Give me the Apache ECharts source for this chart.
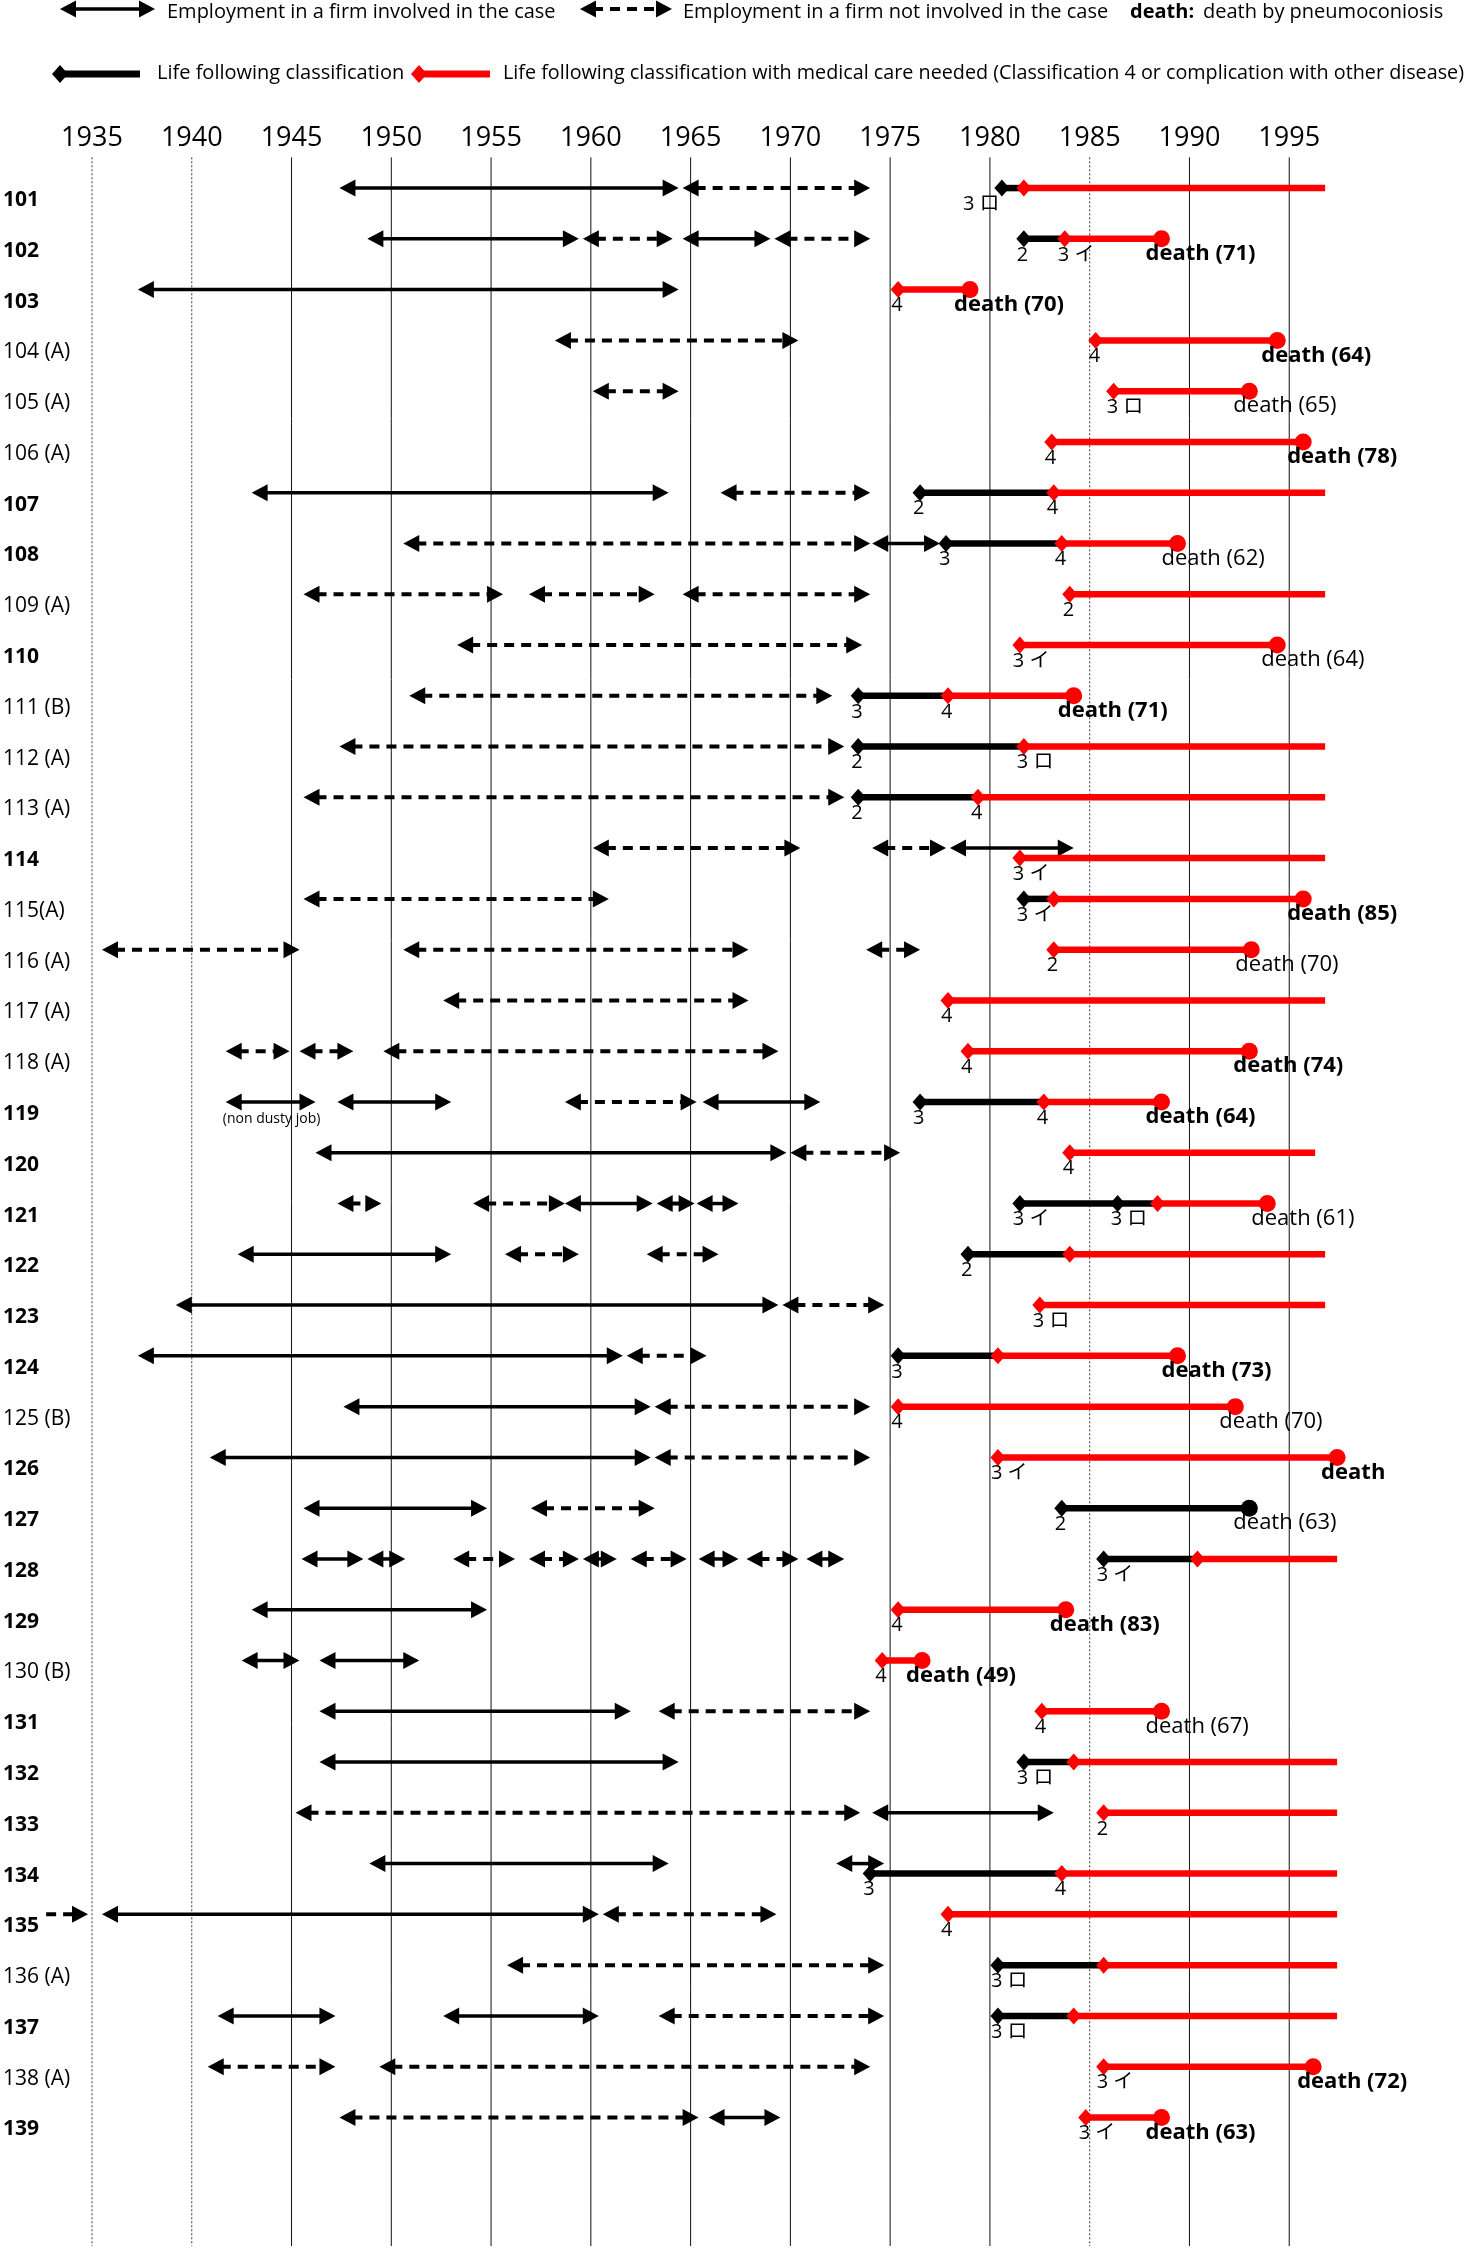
<!DOCTYPE html>
<html><head><meta charset="utf-8">
<script src="https://cdn.jsdelivr.net/npm/echarts@6/dist/echarts.min.js"></script>
<style>html,body{margin:0;padding:0;background:#fff}#c{width:1467px;height:2258px}</style>
</head><body><div id="c"></div><script>
// ---------------- DATA ----------------
const yearTicks = [1935,1940,1945,1950,1955,1960,1965,1970,1975,1980,1985,1990,1995];
const rowIds = [101,102,103,104,105,106,107,108,109,110,111,112,113,114,115,116,117,118,119,120,121,122,123,124,125,126,127,128,129,130,131,132,133,134,135,136,137,138,139];
const rowLabels = ['101','102','103','104 (A)','105 (A)','106 (A)','107','108','109 (A)','110','111 (B)','112 (A)','113 (A)','114','115(A)','116 (A)','117 (A)','118 (A)','119','120','121','122','123','124','125 (B)','126','127','128','129','130 (B)','131','132','133','134','135','136 (A)','137','138 (A)','139'];

// employment in a firm involved in the case: [case, from, to]
const involved = [
 [101,1947.4,1964.4],
 [102,1948.8,1959.4],[102,1964.6,1969.0],
 [103,1937.3,1964.4],
 [107,1943.0,1963.9],
 [108,1974.1,1977.5],
 [114,1978.0,1984.2],
 [119,1941.7,1946.2],[119,1947.3,1953.0],[119,1965.6,1971.5],
 [120,1946.2,1969.8],
 [121,1958.7,1963.1],[121,1965.3,1967.4],
 [122,1942.3,1953.0],
 [123,1939.2,1969.4],
 [124,1937.3,1961.6],
 [125,1947.6,1963.0],
 [126,1940.9,1963.0],
 [127,1945.6,1954.8],
 [128,1945.5,1948.6],[128,1948.8,1950.7],[128,1959.6,1961.3],[128,1965.4,1967.4],[128,1970.8,1972.7],
 [129,1943.0,1954.8],
 [130,1942.5,1945.4],[130,1946.4,1951.4],
 [131,1946.4,1962.0],
 [132,1946.4,1964.4],
 [133,1974.1,1983.2],
 [134,1948.9,1963.9],[134,1972.3,1974.7],
 [135,1935.5,1960.4],
 [137,1941.3,1947.2],[137,1952.6,1960.4],
 [139,1965.9,1969.5]
];
// employment in a firm not involved in the case: [case, from, to]
const notInvolved = [
 [101,1964.6,1974.0],
 [102,1959.6,1964.1],[102,1969.2,1974.0],
 [104,1958.2,1970.4],
 [105,1960.1,1964.4],
 [107,1966.5,1974.0],
 [108,1950.6,1974.0],
 [109,1945.6,1955.6],[109,1956.9,1963.2],[109,1964.6,1974.0],
 [110,1953.3,1973.6],
 [111,1950.9,1972.1],
 [112,1947.4,1972.7],
 [113,1945.6,1972.7],
 [114,1960.1,1970.5],[114,1974.1,1977.8],
 [115,1945.6,1960.9],
 [116,1935.5,1945.4],[116,1950.6,1967.9],[116,1973.8,1976.5],
 [117,1952.6,1967.9],
 [118,1941.7,1944.9],[118,1945.4,1948.1],[118,1949.6,1969.4],
 [119,1958.7,1965.3],
 [120,1970.0,1975.5],
 [121,1947.3,1949.5],[121,1954.1,1958.7],[121,1963.3,1965.2],
 [122,1955.7,1959.4],[122,1962.8,1966.4],
 [123,1969.6,1974.7],
 [124,1961.8,1965.8],
 [125,1963.2,1974.0],
 [126,1963.2,1974.0],
 [127,1957.0,1963.2],
 [128,1953.1,1956.2],[128,1956.9,1959.4],[128,1962.0,1964.8],[128,1967.8,1970.4],
 [131,1963.4,1974.0],
 [133,1945.2,1973.5],
 [135,1960.6,1969.3],
 [136,1955.8,1974.7],
 [137,1963.4,1974.7],
 [138,1940.8,1947.2],[138,1949.4,1974.0],
 [139,1947.4,1965.4]
];
// not involved, started before the chart begins (no left arrowhead)
const notInvolvedFromBefore = [[135,1932.7,1934.8]];
const notes = [[119,1944.0,'(non dusty job)']];

// life following classification: [case, from, to]
const blackLife = [
 [101,1980.6,1981.7],[102,1981.7,1983.75],[107,1976.5,1983.2],[108,1977.8,1983.6],
 [111,1973.4,1977.9],[112,1973.4,1981.7],[113,1973.4,1979.4],[115,1981.7,1983.2],
 [119,1976.5,1982.7],[121,1981.5,1988.4],[122,1978.9,1984.0],[124,1975.4,1980.4],
 [127,1983.6,1993.0],[128,1985.7,1990.4],[132,1981.7,1984.2],[134,1974.0,1983.6],
 [136,1980.4,1985.7],[137,1980.4,1984.2]
];
// life with medical care needed: [case, from, to]
const redLife = [
 [101,1981.7,1996.8],[102,1983.75,1988.6],[103,1975.4,1979.0],[104,1985.3,1994.4],
 [105,1986.2,1993.0],[106,1983.1,1995.7],[107,1983.2,1996.8],[108,1983.6,1989.4],
 [109,1984.0,1996.8],[110,1981.5,1994.4],[111,1977.9,1984.2],[112,1981.7,1996.8],
 [113,1979.4,1996.8],[114,1981.5,1996.8],[115,1983.2,1995.7],[116,1983.2,1993.1],
 [117,1977.9,1996.8],[118,1978.9,1993.0],[119,1982.7,1988.6],[120,1984.0,1996.3],
 [121,1988.4,1993.9],[122,1984.0,1996.8],[123,1982.5,1996.8],[124,1980.4,1989.4],
 [125,1975.4,1992.3],[126,1980.4,1997.4],[128,1990.4,1997.4],[129,1975.4,1983.8],
 [130,1974.6,1976.6],[131,1982.6,1988.6],[132,1984.2,1997.4],[133,1985.7,1997.4],
 [134,1983.6,1997.4],[135,1977.9,1997.4],[136,1985.7,1997.4],[137,1984.2,1997.4],
 [138,1985.7,1996.2],[139,1984.8,1988.6]
];
// classification points: [case, year, 'k' black | 'r' red, classification]
const classMarks = [
 [101,1980.6,'k','3 ロ'],[101,1981.7,'r',''],
 [102,1981.7,'k','2'],[102,1983.75,'r','3 イ'],
 [103,1975.4,'r','4'],[104,1985.3,'r','4'],[105,1986.2,'r','3 ロ'],[106,1983.1,'r','4'],
 [107,1976.5,'k','2'],[107,1983.2,'r','4'],
 [108,1977.8,'k','3'],[108,1983.6,'r','4'],
 [109,1984.0,'r','2'],[110,1981.5,'r','3 イ'],
 [111,1973.4,'k','3'],[111,1977.9,'r','4'],
 [112,1973.4,'k','2'],[112,1981.7,'r','3 ロ'],
 [113,1973.4,'k','2'],[113,1979.4,'r','4'],
 [114,1981.5,'r','3 イ'],
 [115,1981.7,'k','3 イ'],[115,1983.2,'r',''],
 [116,1983.2,'r','2'],[117,1977.9,'r','4'],[118,1978.9,'r','4'],
 [119,1976.5,'k','3'],[119,1982.7,'r','4'],
 [120,1984.0,'r','4'],
 [121,1981.5,'k','3 イ'],[121,1986.4,'k','3 ロ'],[121,1988.4,'r',''],
 [122,1978.9,'k','2'],[122,1984.0,'r',''],
 [123,1982.5,'r','3 ロ'],
 [124,1975.4,'k','3'],[124,1980.4,'r',''],
 [125,1975.4,'r','4'],[126,1980.4,'r','3 イ'],[127,1983.6,'k','2'],
 [128,1985.7,'k','3 イ'],[128,1990.4,'r',''],
 [129,1975.4,'r','4'],[130,1974.6,'r','4'],[131,1982.6,'r','4'],
 [132,1981.7,'k','3 ロ'],[132,1984.2,'r',''],
 [133,1985.7,'r','2'],
 [134,1974.0,'k','3'],[134,1983.6,'r','4'],
 [135,1977.9,'r','4'],
 [136,1980.4,'k','3 ロ'],[136,1985.7,'r',''],
 [137,1980.4,'k','3 ロ'],[137,1984.2,'r',''],
 [138,1985.7,'r','3 イ'],[139,1984.8,'r','3 イ']
];
// death by pneumoconiosis: [case, year, 'k'|'r', age]
const deaths = [
 [102,1988.6,'r',71],[103,1979.0,'r',70],[104,1994.4,'r',64],[105,1993.0,'r',65],
 [106,1995.7,'r',78],[108,1989.4,'r',62],[110,1994.4,'r',64],[111,1984.2,'r',71],
 [115,1995.7,'r',85],[116,1993.1,'r',70],[118,1993.0,'r',74],[119,1988.6,'r',64],
 [121,1993.9,'r',61],[124,1989.4,'r',73],[125,1992.3,'r',70],[126,1997.4,'r',null],
 [127,1993.0,'k',63],[129,1983.8,'r',83],[130,1976.6,'r',49],[131,1988.6,'r',67],
 [138,1996.2,'r',72],[139,1988.6,'r',63]
];

// ---------------- STYLE ----------------
const FONT = "'Open Sans','Noto Sans CJK JP',sans-serif";
const boldDeath = [102,103,104,106,111,115,118,119,124,126,129,130,138,139];
const dottedYears = [1935,1940,1985];
const labelNudge = {101:-32};
const LINE_DY = -12;
const RED = '#ff0000', BLACK = '#000000';

// rows where employment overlaps the life line: shift the life line down a bit
const lifeShift = {};
rowIds.forEach(id => {
  const emp = involved.concat(notInvolved).filter(d => d[0] === id);
  const life = blackLife.concat(redLife).filter(d => d[0] === id);
  const empEnd = Math.max(-Infinity, ...emp.map(d => d[2]));
  const lifeStart = Math.min(Infinity, ...life.map(d => d[1]));
  lifeShift[id] = empEnd > lifeStart ? 10 : 0;
});

function arrowChildren(x1, x2, y, dashed, leftHead) {
  const L = 16, H = 8.5, ch = [];
  const a = leftHead ? x1 + L - 3 : x1;
  const b = x2 - L + 3;
  if (b > a) ch.push({type:'line', shape:{x1:a,y1:y,x2:b,y2:y},
    style:{stroke:BLACK, lineWidth: dashed ? 4 : 3.5, lineDash: dashed ? [10,7] : null}});
  if (leftHead) ch.push({type:'polygon', shape:{points:[[x1,y],[x1+L,y-H],[x1+L,y+H]]}, style:{fill:BLACK}});
  ch.push({type:'polygon', shape:{points:[[x2,y],[x2-L,y-H],[x2-L,y+H]]}, style:{fill:BLACK}});
  return ch;
}
function txt(x, y, text, size, weight, align) {
  return {type:'text', x:x, y:y, style:{text:text, font:(weight||'normal')+' '+size+'px '+FONT, fill:BLACK,
    align:align||'left', verticalAlign:'middle', textAlign:align||'left', textVerticalAlign:'middle'}};
}

function empSeries(arr, dashed, leftHead, name) {
  return {type:'custom', name:name, z:3, animation:false,
    data: arr.map(d => [d[0], d[1], d[2]]), encode:{x:[1,2], y:0},
    renderItem: function(params, api) {
      const d = arr[params.dataIndex];
      const p1 = api.coord([d[1], d[0]]), p2 = api.coord([d[2], d[0]]);
      return {type:'group', children: arrowChildren(p1[0], p2[0], p1[1] + LINE_DY, dashed, leftHead)};
    }};
}
function lifeSeries(arr, color, name) {
  return {type:'custom', name:name, z:4, animation:false,
    data: arr.map(d => [d[0], d[1], d[2]]), encode:{x:[1,2], y:0},
    renderItem: function(params, api) {
      const d = arr[params.dataIndex];
      const p1 = api.coord([d[1], d[0]]), p2 = api.coord([d[2], d[0]]);
      const y = p1[1] + LINE_DY + lifeShift[d[0]];
      return {type:'line', shape:{x1:p1[0], y1:y, x2:p2[0], y2:y}, style:{stroke:color, lineWidth:6.5}};
    }};
}

const option = {
  animation: false,
  backgroundColor: '#fff',
  grid: {left: 89, right: 78, top: 149.3, bottom: 27},
  xAxis: {type:'value', position:'top', min:1935, max:2000, interval:5,
    axisLine:{show:false}, axisTick:{show:false}, splitLine:{show:false},
    axisLabel:{margin:11, verticalAlign:'middle', fontSize:27, fontFamily:FONT, color:BLACK,
      formatter: v => yearTicks.indexOf(v) >= 0 ? String(v) : ''}},
  yAxis: {type:'value', inverse:true, min:100, max:141, interval:1,
    axisLine:{show:false}, axisTick:{show:false}, splitLine:{show:false},
    axisLabel:{align:'left', margin:89, fontSize:21, fontFamily:FONT, color:BLACK,
      formatter: v => {
        const i = rowIds.indexOf(v);
        if (i < 0) return '';
        const t = rowLabels[i];
        return t.indexOf('(') < 0 ? '{b|' + t + '}' : '{n|' + t + '}';
      },
      rich:{b:{fontWeight:'bold', fontSize:21, fontFamily:FONT, color:BLACK},
            n:{fontWeight:'normal', fontSize:21, fontFamily:FONT, color:BLACK}}}},
  graphic: [
    {type:'group', children: arrowChildren(60, 155, 9, false, true)},
    txt(167, 12, 'Employment in a firm involved in the case', 20),
    {type:'group', children: arrowChildren(580, 672, 9, true, true)},
    txt(683, 12, 'Employment in a firm not involved in the case', 20),
    txt(1130, 12, 'death:', 20, 'bold'),
    txt(1203, 12, 'death by pneumoconiosis', 20),
    {type:'line', shape:{x1:60, y1:74, x2:140, y2:74}, style:{stroke:BLACK, lineWidth:7}},
    {type:'polygon', shape:{points:[[52,74],[60,65],[68,74],[60,83]]}, style:{fill:BLACK}},
    txt(157, 73, 'Life following classification', 20),
    {type:'line', shape:{x1:419, y1:74, x2:490, y2:74}, style:{stroke:RED, lineWidth:7}},
    {type:'polygon', shape:{points:[[411,74],[419,65],[427,74],[419,83]]}, style:{fill:RED}},
    txt(503, 73, 'Life following classification with medical care needed (Classification 4 or complication with other disease)', 19.75)
  ],
  series: [
    {type:'custom', name:'grid', z:1, animation:false, silent:true,
      data: yearTicks.map(y => [y]), encode:{x:0},
      renderItem: function(params, api) {
        const yr = yearTicks[params.dataIndex];
        const x = api.coord([yr, 101])[0];
        const cs = params.coordSys;
        const dotted = dottedYears.indexOf(yr) >= 0;
        return {type:'line', shape:{x1:x, y1:cs.y + 8, x2:x, y2:cs.y + cs.height + 15},
          style:{stroke: dotted ? '#333' : '#111', lineWidth: 1, lineDash: dotted ? [2,2] : null}};
      }},
    empSeries(involved, false, true, 'involved'),
    empSeries(notInvolved, true, true, 'notInvolved'),
    empSeries(notInvolvedFromBefore, true, false, 'notInvolvedBefore'),
    lifeSeries(blackLife, BLACK, 'life'),
    lifeSeries(redLife, RED, 'lifeCare'),
    {type:'custom', name:'classification', z:5, animation:false,
      data: classMarks.map(d => [d[0], d[1]]), encode:{x:1, y:0},
      renderItem: function(params, api) {
        const d = classMarks[params.dataIndex];
        const p = api.coord([d[1], d[0]]);
        const y = p[1] + LINE_DY + lifeShift[d[0]];
        const c = d[2] === 'k' ? BLACK : RED;
        const ch = [{type:'polygon', shape:{points:[[p[0]-7.5,y],[p[0],y-8.5],[p[0]+7.5,y],[p[0],y+8.5]]}, style:{fill:c}}];
        if (d[3]) ch.push(txt(p[0] - 7 + (labelNudge[d[0]] || 0), y + 16, d[3], 20));
        return {type:'group', children: ch};
      }},
    {type:'custom', name:'death', z:5, animation:false,
      data: deaths.map(d => [d[0], d[1]]), encode:{x:1, y:0},
      renderItem: function(params, api) {
        const d = deaths[params.dataIndex];
        const p = api.coord([d[1], d[0]]);
        const y = p[1] + LINE_DY + lifeShift[d[0]];
        const c = d[2] === 'k' ? BLACK : RED;
        const label = d[3] == null ? 'death' : 'death (' + d[3] + ')';
        return {type:'group', children: [
          {type:'circle', shape:{cx:p[0], cy:y, r:8.5}, style:{fill:c}},
          txt(p[0] - 16, y + 15, label, 22, boldDeath.indexOf(d[0]) >= 0 ? 'bold' : 'normal')
        ]};
      }},
    {type:'custom', name:'notes', z:5, animation:false,
      data: notes.map(d => [d[0], d[1]]), encode:{x:1, y:0},
      renderItem: function(params, api) {
        const d = notes[params.dataIndex];
        const p = api.coord([d[1], d[0]]);
        return txt(p[0], p[1] + LINE_DY + 17, d[2], 14, 'normal', 'center');
      }}
  ]
};
const chart = echarts.init(document.getElementById('c'));
chart.setOption(option);
</script></body></html>
